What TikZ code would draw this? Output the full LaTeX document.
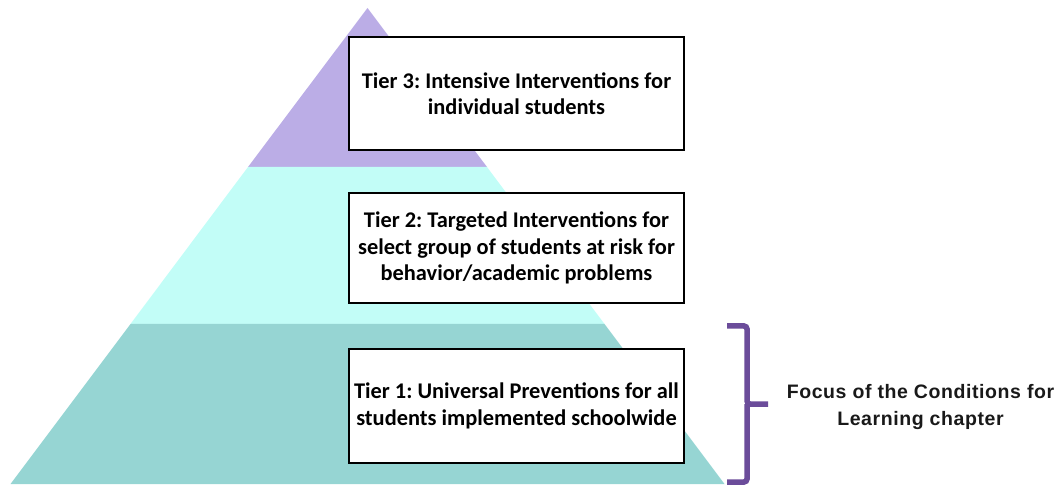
\documentclass[tikz,border=0pt]{standalone}
\usepackage{fontspec}
\newfontfamily\calib{Carlito}
\newfontfamily\helv[LetterSpace=3.0]{Liberation Sans}
\definecolor{tierthree}{RGB}{187,173,230}
\definecolor{tiertwo}{RGB}{194,253,247}
\definecolor{tierone}{RGB}{150,213,211}
\definecolor{bracketc}{RGB}{107,76,154}
\tikzset{
  tierbox/.style={draw=black, line width=2.6pt, fill=white, minimum width=335pt,
    align=center, font=\frenchspacing\calib\bfseries\fontsize{22.4}{26.5}\selectfont, inner sep=0pt},
  focustext/.style={align=center, font=\helv\bfseries\fontsize{19.5}{27}\selectfont, text=black!90},
  bracketline/.style={bracketc, line width=5.5pt, rounded corners=3pt}
}
\begin{document}
\begin{tikzpicture}[x=1pt,y=-1pt]
\useasboundingbox (0,0) rectangle (1058,486);
% pyramid tiers
\fill[tierthree] (367.5,8) -- (487,167) -- (248,167) -- cycle;
\fill[tiertwo] (248,167) -- (487,167) -- (604.5,324) -- (130.5,324) -- cycle;
\fill[tierone] (130.5,324) -- (604.5,324) -- (724.5,484) -- (10.5,484) -- cycle;
% boxes
\node[tierbox, minimum height=113pt] (t3) at (516.5,93.5) {Tier 3: Intensive Interventions for\\individual students};
\node[tierbox, minimum height=110pt] (t2) at (516.5,248) {Tier 2: Targeted Interventions for\\select group of students at risk for\\behavior/academic problems};
\node[tierbox, minimum height=114pt] (t1) at (516.5,406) {Tier 1: Universal Preventions for all\\students implemented schoolwide};
% bracket
\coordinate (btop) at (727,326);
\coordinate (bbot) at (727,482);
\coordinate (btip) at (768,404);
\draw[bracketline] (btop) -- (747,326) -- (747,404) -- (btip);
\draw[bracketline] (bbot) -- (747,482) -- (747,404);
\node[focustext] (focus) at (920.5,407) {Focus of the Conditions for\\Learning chapter};
\end{tikzpicture}
\end{document}
